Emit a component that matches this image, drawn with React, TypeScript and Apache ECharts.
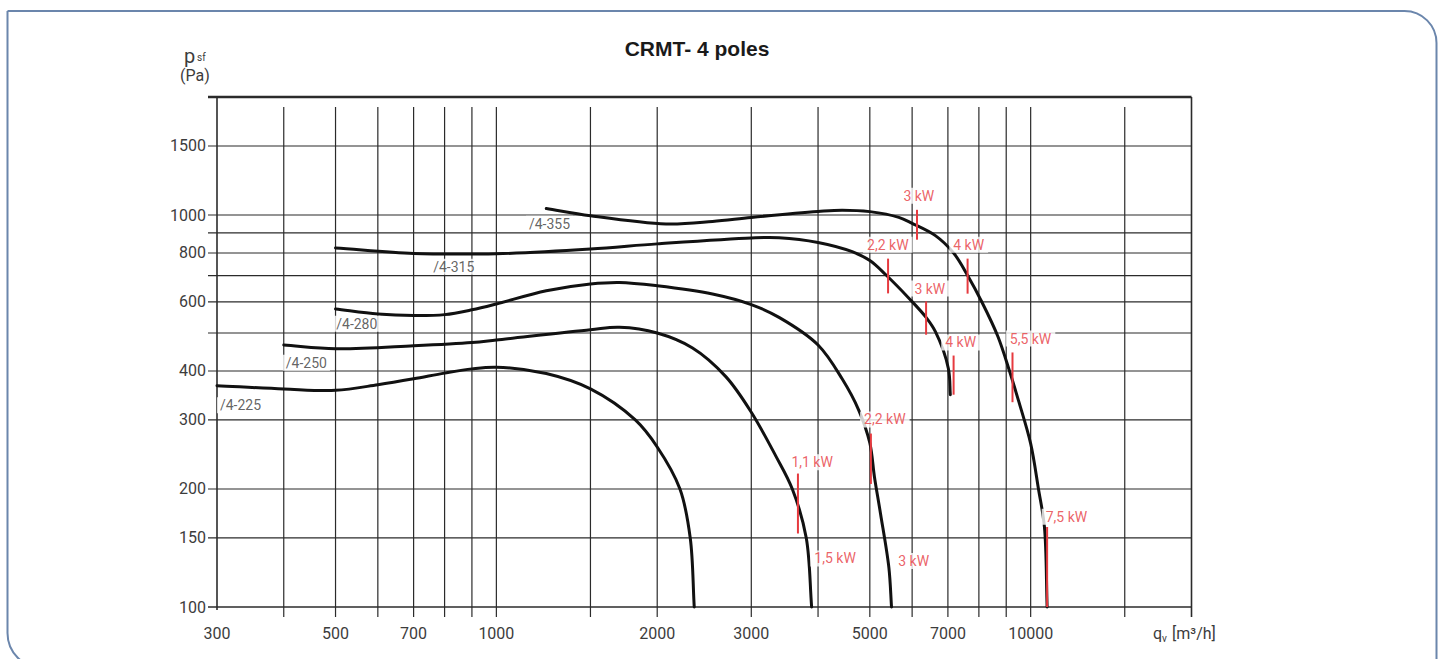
import React, { useEffect, useRef } from "react";
import * as echarts from "echarts";

const FONT = "Roboto, 'DejaVu Sans Condensed', 'Liberation Sans', sans-serif";
const TITLE_FONT = "'Liberation Sans', Arial, Helvetica, sans-serif";

// axis ranges and tick values
const X_MIN = 300;
const X_MAX = 20000;
const Y_MIN = 100;
const Y_MAX = 2000;
const xGridValues = [400, 500, 600, 700, 800, 900, 1000, 1500, 2000, 3000, 4000, 5000, 6000, 7000, 8000, 9000, 10000, 15000];
const xTickLabels = [300, 500, 700, 1000, 2000, 3000, 5000, 7000, 10000];
const yGridValues = [150, 200, 300, 400, 500, 600, 700, 800, 900, 1000, 1500];
const yTickLabels = [100, 150, 200, 300, 400, 600, 800, 1000, 1500];

// fan curves [qv m3/h, psf Pa]
const curve225 = [[300, 367], [400, 360], [500, 357], [600, 369], [700, 382], [800, 395], [900, 405], [1000, 409], [1240, 394], [1500, 360], [1820, 300], [2000, 256], [2206, 200], [2306, 150], [2346, 100]];
const curve250 = [[400, 466], [500, 456], [700, 464], [900, 473], [1000, 480], [1500, 510], [1700, 517], [2000, 500], [2329, 458], [2688, 387], [3000, 314], [3333, 243], [3580, 200], [3802, 150], [3891, 100]];
const curve280 = [[500, 576], [600, 559], [700, 554], [800, 557], [900, 573], [1000, 593], [1240, 641], [1500, 667], [1700, 673], [2000, 660], [2538, 629], [3000, 591], [3381, 548], [4000, 466], [4437, 382], [4766, 318], [5000, 262], [5100, 215], [5236, 173], [5428, 126], [5490, 100]];
const curve315 = [[500, 824], [700, 798], [900, 795], [1000, 796], [1500, 819], [2000, 844], [3000, 874], [3381, 875], [4000, 851], [4634, 806], [5000, 765], [5350, 705], [5953, 608], [6372, 548], [6633, 504], [7014, 406], [7073, 348]];
const curve355 = [[1240, 1039], [1500, 996], [2077, 949], [2538, 963], [3000, 986], [4000, 1021], [4437, 1029], [5000, 1020], [5665, 986], [6000, 952], [6633, 886], [7174, 800], [7626, 700], [8103, 600], [8683, 490], [9129, 400], [9490, 336], [10000, 261], [10342, 200], [10612, 160], [10735, 100]];

const curves = [curve225, curve250, curve280, curve315, curve355];
const curveNames = ["/4-225", "/4-250", "/4-280", "/4-315", "/4-355"];
const curveLabelX = [332, 441, 548, 832, 1257];
const curveLabelY = [327, 420, 528, 738, 950];

// motor power markers (vertical red ticks)
const markX = [6127, 7620, 9247, 10735, 5409, 6372, 7174, 5023, 3668];
const markY1 = [1031, 774, 446, 160, 774, 602, 438, 277, 219];
const markY2 = [865, 630, 333, 100, 631, 495, 348, 206, 154];

// motor power labels
const powerLabels = ["3 kW", "4 kW", "5,5 kW", "7,5 kW", "2,2 kW", "3 kW", "4 kW", "2,2 kW", "3 kW", "1,1 kW", "1,5 kW"];
const powerLabelX = [6175, 7656, 9995, 11667, 5403, 6475, 7396, 5334, 6040, 3899, 4305];
const powerLabelY = [1120, 840, 484, 170, 840, 649, 473, 301, 131, 234, 133];

const RED = "#e63a3f";
const GRID_COLOR = "#2b2b2b";
const TEXT_COLOR = "#3c3c3c";

// centripetal Catmull-Rom spline through pixel points -> SVG path data
function splinePath(pts: number[][]): string {
  const n = pts.length;
  const dist = (a: number[], b: number[]) => Math.max(Math.hypot(b[0] - a[0], b[1] - a[1]), 1e-6);
  let d = `M${pts[0][0]},${pts[0][1]}`;
  for (let i = 0; i < n - 1; i++) {
    const p1 = pts[i];
    const p2 = pts[i + 1];
    const p0 = i > 0 ? pts[i - 1] : [2 * p1[0] - p2[0], 2 * p1[1] - p2[1]];
    const p3 = i < n - 2 ? pts[i + 2] : [2 * p2[0] - p1[0], 2 * p2[1] - p1[1]];
    const d1 = Math.sqrt(dist(p0, p1));
    const d2 = Math.sqrt(dist(p1, p2));
    const d3 = Math.sqrt(dist(p2, p3));
    const b1 = [0, 1].map(
      (k) => (d1 * d1 * p2[k] - d2 * d2 * p0[k] + (2 * d1 * d1 + 3 * d1 * d2 + d2 * d2) * p1[k]) / (3 * d1 * (d1 + d2))
    );
    const b2 = [0, 1].map(
      (k) => (d3 * d3 * p1[k] - d2 * d2 * p3[k] + (2 * d3 * d3 + 3 * d3 * d2 + d2 * d2) * p2[k]) / (3 * d3 * (d3 + d2))
    );
    d += ` C${b1[0]},${b1[1]} ${b2[0]},${b2[1]} ${p2[0]},${p2[1]}`;
  }
  return d;
}

function buildOption(): any {
  const series: any[] = [];
  curves.forEach((c, i) => {
    series.push({
      type: "custom",
      name: curveNames[i],
      data: c,
      encode: { x: 0, y: 1 },
      renderItem: (params: any, api: any) => {
        if (params.dataIndex !== 0) return null;
        const pts = c.map((p) => api.coord(p));
        return {
          type: "path",
          shape: { pathData: splinePath(pts) },
          style: { fill: "none", stroke: "#111111", lineWidth: 3, lineCap: "round", lineJoin: "round" },
        };
      },
      z: 3,
      silent: true,
    });
  });
  markX.forEach((x, i) => {
    series.push({
      type: "line",
      data: [[x, markY1[i]], [x, markY2[i]]],
      symbol: "none",
      lineStyle: { color: RED, width: 2 },
      z: 4,
      silent: true,
    });
  });
  series.push({
    type: "scatter",
    data: curveNames.map((n, i) => ({ name: n, value: [curveLabelX[i], curveLabelY[i]] })),
    symbolSize: 1,
    itemStyle: { color: "rgba(0,0,0,0)" },
    label: {
      show: true,
      position: "inside",
      formatter: "{b}",
      color: TEXT_COLOR,
      fontSize: 14,
      fontFamily: FONT,
      backgroundColor: "#ffffff",
      padding: [1, 3],
    },
    z: 5,
    silent: true,
  });
  series.push({
    type: "scatter",
    data: powerLabels.map((n, i) => ({ name: n, value: [powerLabelX[i], powerLabelY[i]] })),
    symbolSize: 1,
    itemStyle: { color: "rgba(0,0,0,0)" },
    label: {
      show: true,
      position: "inside",
      formatter: "{b}",
      color: RED,
      fontSize: 14,
      fontFamily: FONT,
      backgroundColor: "#ffffff",
      padding: [1, 4],
    },
    z: 5,
    silent: true,
  });

  const hiddenAxis = {
    axisLine: { show: false },
    axisTick: { show: false },
    axisLabel: { show: false },
    splitLine: { show: false },
  };

  return {
    animation: false,
    backgroundColor: "#ffffff",
    grid: { left: 217, top: 97, width: 974.5, height: 510, containLabel: false, outerBoundsMode: "none" },
    xAxis: { type: "log", logBase: 10, min: X_MIN, max: X_MAX, ...hiddenAxis },
    yAxis: { type: "log", logBase: 10, min: Y_MIN, max: Y_MAX, ...hiddenAxis },
    series,
  };
}

function buildGraphic(chart: any): any[] {
  const toX = (v: number) => chart.convertToPixel({ xAxisIndex: 0 }, v) as number;
  const toY = (v: number) => chart.convertToPixel({ yAxisIndex: 0 }, v) as number;
  const L = toX(X_MIN);
  const R = toX(X_MAX);
  const T = toY(Y_MAX);
  const B = toY(Y_MIN);
  const els: any[] = [];
  const line = (x1: number, y1: number, x2: number, y2: number, w = 1.2) =>
    els.push({ type: "line", z: 1, silent: true, shape: { x1, y1, x2, y2 }, style: { stroke: GRID_COLOR, lineWidth: w } });
  const text = (t: string, x: number, y: number, opts: any) =>
    els.push({ type: "text", z: 1, silent: true, style: { text: t, x, y, fontFamily: FONT, fill: TEXT_COLOR, ...opts } });

  // outer rounded frame
  els.push({
    type: "rect",
    z: 0,
    silent: true,
    shape: { x: 7.5, y: 11, width: 1429, height: 657, r: [0, 32, 0, 35] },
    style: { fill: "none", stroke: "#6b86ac", lineWidth: 2 },
  });

  yGridValues.forEach((v) => {
    const y = toY(v);
    line(L - 9, y, R, y);
  });
  xGridValues.forEach((v) => {
    const x = toX(v);
    line(x, T + 10, x, B + 10);
  });
  line(L - 9, B, R, B, 1.6);
  line(L, T, L, B + 3, 1.6);
  line(L - 9, T, R, T, 2.6);
  line(R, T, R, B + 10, 1.6);

  xTickLabels.forEach((v) => text(String(v), toX(v), B + 26, { align: "center", verticalAlign: "middle", fontSize: 16 }));
  yTickLabels.forEach((v) => text(String(v), L - 11, toY(v), { align: "right", verticalAlign: "middle", fontSize: 16 }));

  // axis names
  text("p", 184, 56, { align: "left", verticalAlign: "middle", fontSize: 20 });
  text("sf", 197, 57, { align: "left", verticalAlign: "middle", fontSize: 10 });
  text("(Pa)", 195, 75, { align: "center", verticalAlign: "middle", fontSize: 16 });
  text("q", 1153, 633, { align: "left", verticalAlign: "middle", fontSize: 16 });
  text("v", 1162, 638, { align: "left", verticalAlign: "middle", fontSize: 10 });
  text("[m³/h]", 1172, 633, { align: "left", verticalAlign: "middle", fontSize: 16 });

  // title
  els.push({
    type: "text",
    z: 1,
    silent: true,
    style: {
      text: "CRMT- 4 poles",
      x: 697,
      y: 48,
      align: "center",
      verticalAlign: "middle",
      fontSize: 21,
      fontWeight: "bold",
      fontFamily: TITLE_FONT,
      fill: "#1a1a1a",
    },
  });
  return els;
}

export default function App() {
  const ref = useRef<HTMLDivElement>(null);
  useEffect(() => {
    if (!ref.current) return;
    const chart = echarts.init(ref.current, null, { renderer: "svg" });
    chart.setOption(buildOption());
    chart.setOption({ graphic: { elements: buildGraphic(chart) } });
    return () => {
      chart.dispose();
    };
  }, []);
  return (
    <div
      ref={ref}
      style={{ position: "absolute", left: 0, top: 0, width: "1447px", height: "659px", background: "#fff" }}
    />
  );
}
